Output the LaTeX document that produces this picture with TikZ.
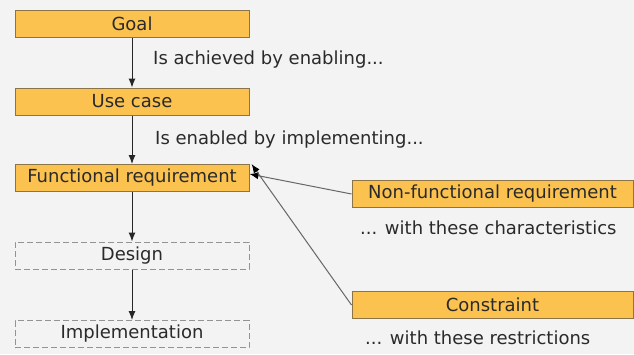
\documentclass[tikz,border=0pt]{standalone}
\usepackage{fontspec}
\setmainfont{DejaVu Sans}
\usetikzlibrary{arrows.meta}
\definecolor{boxfill}{HTML}{FBC24F}
\definecolor{boxline}{HTML}{8A7448}
\definecolor{txt}{HTML}{2A2A2A}
\definecolor{bg}{HTML}{F3F3F3}
\begin{document}
\begin{tikzpicture}[x=1pt,y=-1pt,
  solidbox/.style={draw=boxline,fill=boxfill,line width=1pt,minimum height=27pt,inner sep=0pt,text=txt,font=\fontsize{18}{20}\selectfont},
  dashbox/.style={draw=gray!85,dash pattern=on 6pt off 3pt,line width=1pt,minimum height=27pt,inner sep=0pt,text=txt,font=\fontsize{18}{20}\selectfont},
  lbl/.style={text=txt,font=\fontsize{18}{20}\selectfont,anchor=west,inner sep=0pt},
  arr/.style={-{Latex[length=9pt,width=7pt]},line width=1pt,draw=black!85},
  sarr/.style={-{Latex[length=9pt,width=7pt,color=black]},line width=1pt,draw=black!60}]
\fill[bg] (0,0) rectangle (634,354);
\useasboundingbox (0,0) rectangle (634,354);
\node[solidbox,minimum width=234pt] (goal) at (132,24) {Goal};
\node[solidbox,minimum width=234pt] (uc) at (132,101.5) {Use case};
\node[solidbox,minimum width=234pt] (fr) at (132,178) {Functional requirement};
\node[dashbox,minimum width=234pt] (des) at (132,255.5) {Design};
\node[dashbox,minimum width=234pt] (impl) at (132,334) {Implementation};
\node[solidbox,minimum width=281pt] (nfr) at (492.5,194) {Non-functional requirement};
\node[solidbox,minimum width=281pt] (con) at (492.5,305) {Constraint};
\node[lbl] (l1) at (153,60) {Is achieved by enabling...};
\node[lbl] (l2) at (155,140) {Is enabled by implementing...};
\node[lbl] (l3) at (360,228) {... with these characteristics};
\node[lbl] (l4) at (365,338) {... with these restrictions};
\draw[arr] (goal) -- (uc);
\draw[arr] (uc) -- (fr);
\draw[arr] (fr) -- (des);
\draw[arr] (des) -- (impl);
\draw[sarr] (nfr.west) -- ([yshift=4pt]fr.east);
\draw[sarr] (con.west) -- ([xshift=2pt,yshift=14pt]fr.east);
\end{tikzpicture}
\end{document}
